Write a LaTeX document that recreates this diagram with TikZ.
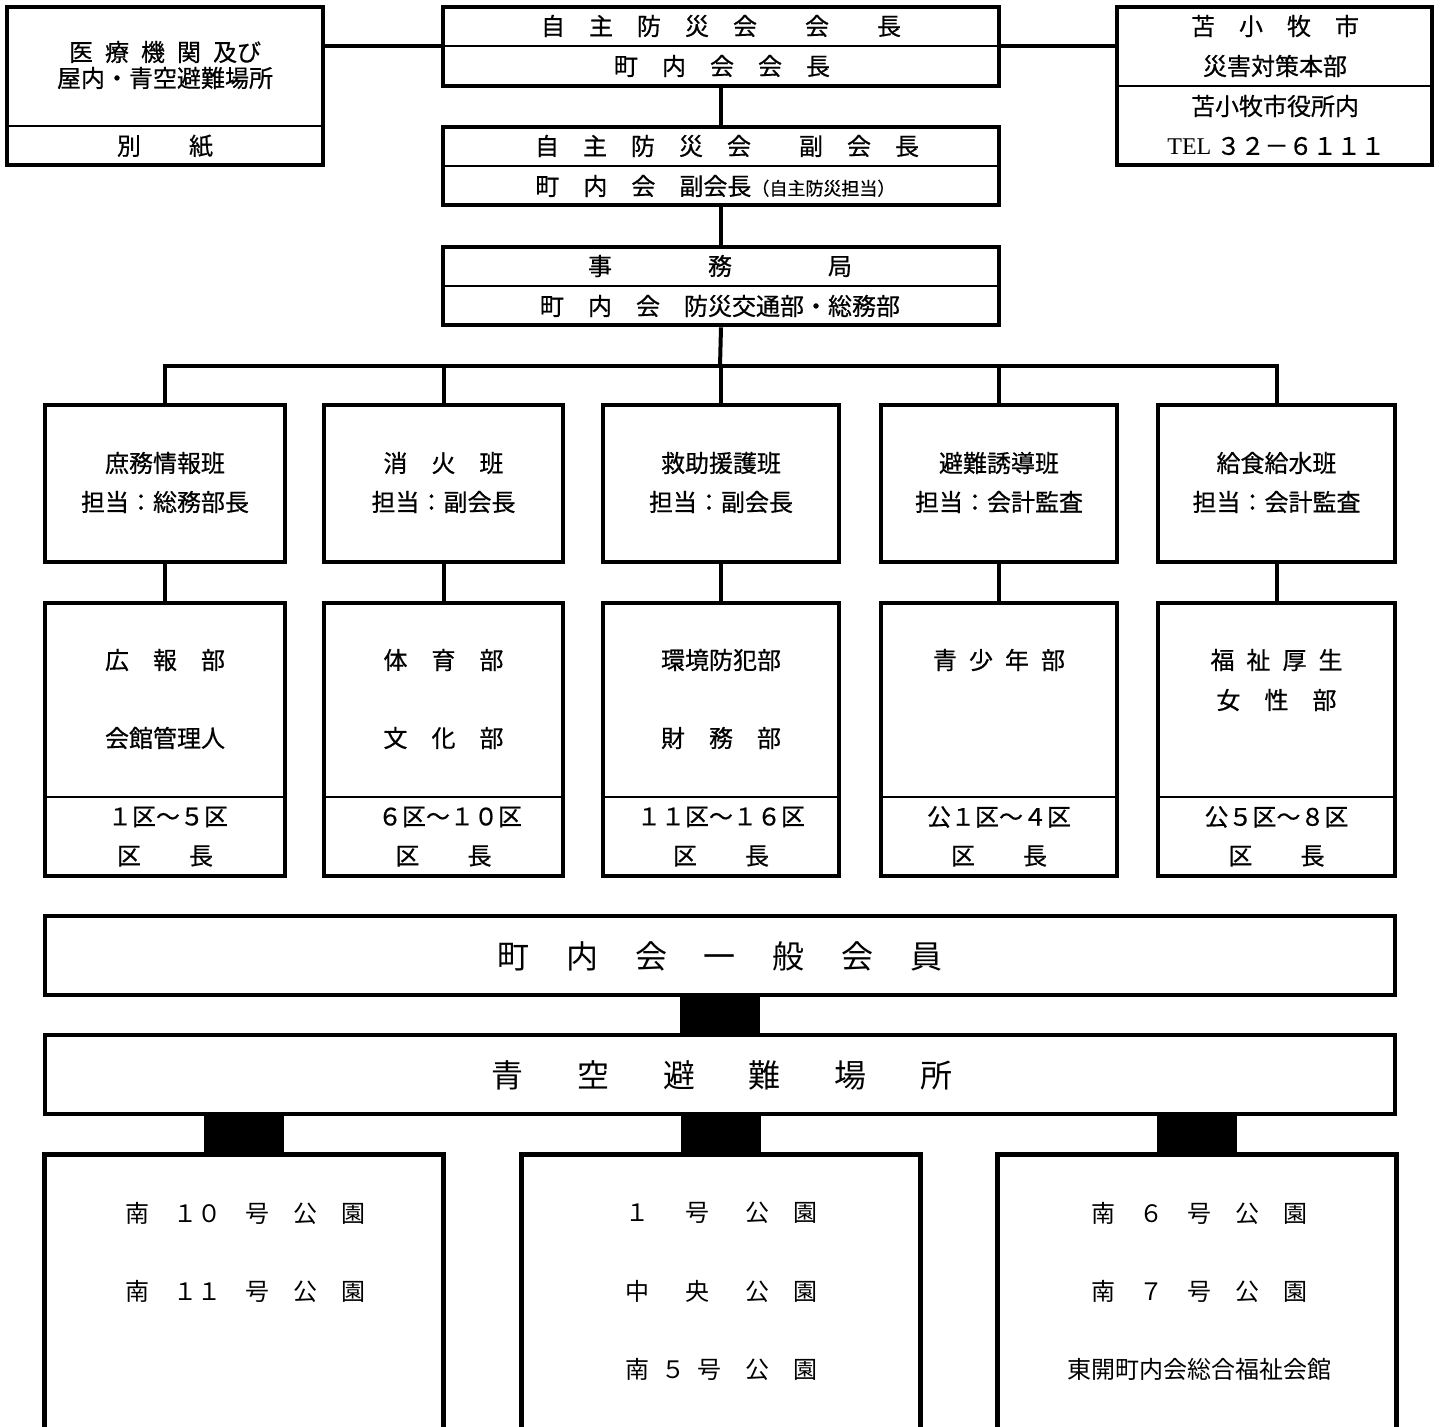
\documentclass[tikz,border=0pt]{standalone}
\usepackage{fontspec}
\setmainfont{Noto Sans CJK JP}
\newfontfamily\gothb{Noto Sans CJK JP}[FakeBold=0.6]
\newfontfamily\telfont{Liberation Serif}
\usetikzlibrary{fit}
\newcommand{\hsp}[1][0.5em]{\hspace{#1}}
\begin{document}
\begin{tikzpicture}[x=0.5pt,y=-0.5pt,
  box/.style={draw, line width=2.3pt, inner sep=0pt},
  div/.style={line width=1pt},
  link/.style={line width=2pt},
  bar/.style={line width=40pt},
  txt/.style={inner sep=0pt, font=\gothb\fontsize{12}{14}\selectfont},
  ptxt/.style={inner sep=0pt, font=\fontsize{12}{14}\selectfont},
  big/.style={inner sep=0pt, font=\fontsize{16}{19}\selectfont},
]
\useasboundingbox (0,0) rectangle (1444,1427);

% ---------- top boxes ----------
\node[box, fit={(7,7)(323,165)}] (med) {};
\draw[div] (7,126) -- (323,126);
\node[box, fit={(443,7)(999,86)}] (chair) {};
\draw[div] (443,46) -- (999,46);
\node[box, fit={(1117,7)(1432,165)}] (city) {};
\draw[div] (1117,86) -- (1432,86);
\node[box, fit={(443,127)(999,205)}] (vice) {};
\draw[div] (443,166) -- (999,166);
\node[box, fit={(443,247)(999,325)}] (office) {};
\draw[div] (443,286) -- (999,286);

\node[txt] (med1) at (165,52) {医\hsp 療\hsp 機\hsp 関\hsp 及び};
\node[txt] (med2) at (165,78) {屋内・青空避難場所};
\node[txt] (med3) at (165,146) {別　　紙};

\node[txt] (chair1) at (721,26) {自　主　防　災　会　　会　　長};
\node[txt] (chair2) at (722,66) {町　内　会　会　長};

\node[txt] (city1) at (1275,26) {苫　小　牧　市};
\node[txt] (city2) at (1275,66) {災害対策本部};
\node[txt] (city3) at (1275,106) {苫小牧市役所内};
\node[txt] (city4) at (1276,146) {{\telfont TEL} ３２－６１１１};

\node[txt] (vice1) at (727,146) {自　主　防　災　会　　副　会　長};
\node[txt, anchor=west] (vice2) at (535,186) {町　内　会　副会長{\fontsize{9}{11}\selectfont （自主防災担当）}};

\node[txt] (office1) at (720,266) {事　　　　務　　　　局};
\node[txt] (office2) at (720,306) {町　内　会　防災交通部・総務部};

% ---------- groups ----------
\node[box, fit={(45,405)(285,562)}] (g1) {};
\node[box, fit={(324,405)(563,562)}] (g2) {};
\node[box, fit={(603,405)(839,562)}] (g3) {};
\node[box, fit={(881,405)(1117,562)}] (g4) {};
\node[box, fit={(1158,405)(1395,562)}] (g5) {};

\node[txt] (g1a) at (165,463) {庶務情報班};
\node[txt] (g1b) at (165,502) {担当：総務部長};
\node[txt] (g2a) at (443.5,463) {消　火　班};
\node[txt] (g2b) at (443.5,502) {担当：副会長};
\node[txt] (g3a) at (721,463) {救助援護班};
\node[txt] (g3b) at (721,502) {担当：副会長};
\node[txt] (g4a) at (999,463) {避難誘導班};
\node[txt] (g4b) at (999,502) {担当：会計監査};
\node[txt] (g5a) at (1276.5,463) {給食給水班};
\node[txt] (g5b) at (1276.5,502) {担当：会計監査};

\node[box, fit={(45,603)(285,876)}] (d1) {};
\node[box, fit={(324,603)(563,876)}] (d2) {};
\node[box, fit={(603,603)(839,876)}] (d3) {};
\node[box, fit={(881,603)(1117,876)}] (d4) {};
\node[box, fit={(1158,603)(1395,876)}] (d5) {};
\draw[div] (45,797) -- (285,797);
\draw[div] (324,797) -- (563,797);
\draw[div] (603,797) -- (839,797);
\draw[div] (881,797) -- (1117,797);
\draw[div] (1158,797) -- (1395,797);

\node[txt] (d1a) at (165,660) {広　報　部};
\node[txt] (d1b) at (165,738) {会館管理人};
\node[txt] (d1c) at (168,817) {１区～５区};
\node[txt] (d1d) at (165,856) {区　　長};

\node[txt] (d2a) at (443.5,660) {体　育　部};
\node[txt] (d2b) at (443.5,738) {文　化　部};
\node[txt] (d2c) at (450,817) {６区～１０区};
\node[txt] (d2d) at (443.5,856) {区　　長};

\node[txt] (d3a) at (721,660) {環境防犯部};
\node[txt] (d3b) at (721,738) {財　務　部};
\node[txt] (d3c) at (721,817) {１１区～１６区};
\node[txt] (d3d) at (721,856) {区　　長};

\node[txt] (d4a) at (999,660) {青\hsp 少\hsp 年\hsp 部};
\node[txt] (d4c) at (999,817) {公１区～４区};
\node[txt] (d4d) at (999,856) {区　　長};

\node[txt] (d5a) at (1276.5,660) {福\hsp 祉\hsp 厚\hsp 生};
\node[txt] (d5b) at (1276.5,700) {女　性　部};
\node[txt] (d5c) at (1276.5,817) {公５区～８区};
\node[txt] (d5d) at (1276.5,856) {区　　長};

% ---------- members / shelter ----------
\node[box, fit={(45,916)(1395,995)}] (members) {};
\node[big] (memtxt) at (720,956) {町\hspace{1.15em}内\hspace{1.15em}会\hspace{1.15em}一\hspace{1.15em}般\hspace{1.15em}会\hspace{1.15em}員};
\node[box, fit={(45,1035)(1395,1114)}] (shelter) {};
\node[big] (sheltxt) at (722,1075) {青\hspace{1.68em}空\hspace{1.68em}避\hspace{1.68em}難\hspace{1.68em}場\hspace{1.68em}所};

% ---------- parks (open at the bottom) ----------
\node[inner sep=0pt, fit={(45,1155)(443,1427)}] (p1) {};
\node[inner sep=0pt, fit={(522,1155)(920,1427)}] (p2) {};
\node[inner sep=0pt, fit={(998,1155)(1396,1427)}] (p3) {};
\foreach \p in {p1,p2,p3}
  \draw[line width=2.3pt] (\p.south west) |- (\p.north) -| (\p.south east);

\node[ptxt] (p1a) at (245,1213) {南　１０　号　公　園};
\node[ptxt] (p1b) at (245,1291) {南　１１　号　公　園};
\node[ptxt] (p2a) at (721,1213) {１\hspace{1.5em}号\hspace{1.5em}公\hspace{1em}園};
\node[ptxt] (p2b) at (721,1291) {中\hspace{1.5em}央\hspace{1.5em}公\hspace{1em}園};
\node[ptxt] (p2c) at (721,1369) {南\hspace{.5em}５\hspace{.5em}号\hspace{1em}公\hspace{1em}園};
\node[ptxt] (p3a) at (1199,1213) {南　６　号　公　園};
\node[ptxt] (p3b) at (1199,1291) {南　７　号　公　園};
\node[ptxt] (p3c) at (1199,1369) {東開町内会総合福祉会館};

% ---------- connectors ----------
\draw[link] (chair.west) -- (chair.west -| med.east);
\draw[link] (chair.east) -- (chair.east -| city.west);
\draw[link] (chair.south) -- (vice.north);
\draw[link] (vice.south) -- (office.north);
\coordinate (bus) at (720,366);
\draw[link] (office.south) -- (bus);
\draw[link] (g1.north) -- (g1.north |- bus) -- (g5.north |- bus) -- (g5.north);
\foreach \i in {2,3,4}
  \draw[link] (g\i.north) -- (g\i.north |- bus);
\foreach \i in {1,...,5}
  \draw[link] (g\i.south) -- (d\i.north);
\draw[bar] (members.south) -- (shelter.north);
\foreach \p in {p1,p2,p3}
  \draw[bar] (\p.north) -- (\p.north |- shelter.south);
\end{tikzpicture}
\end{document}
